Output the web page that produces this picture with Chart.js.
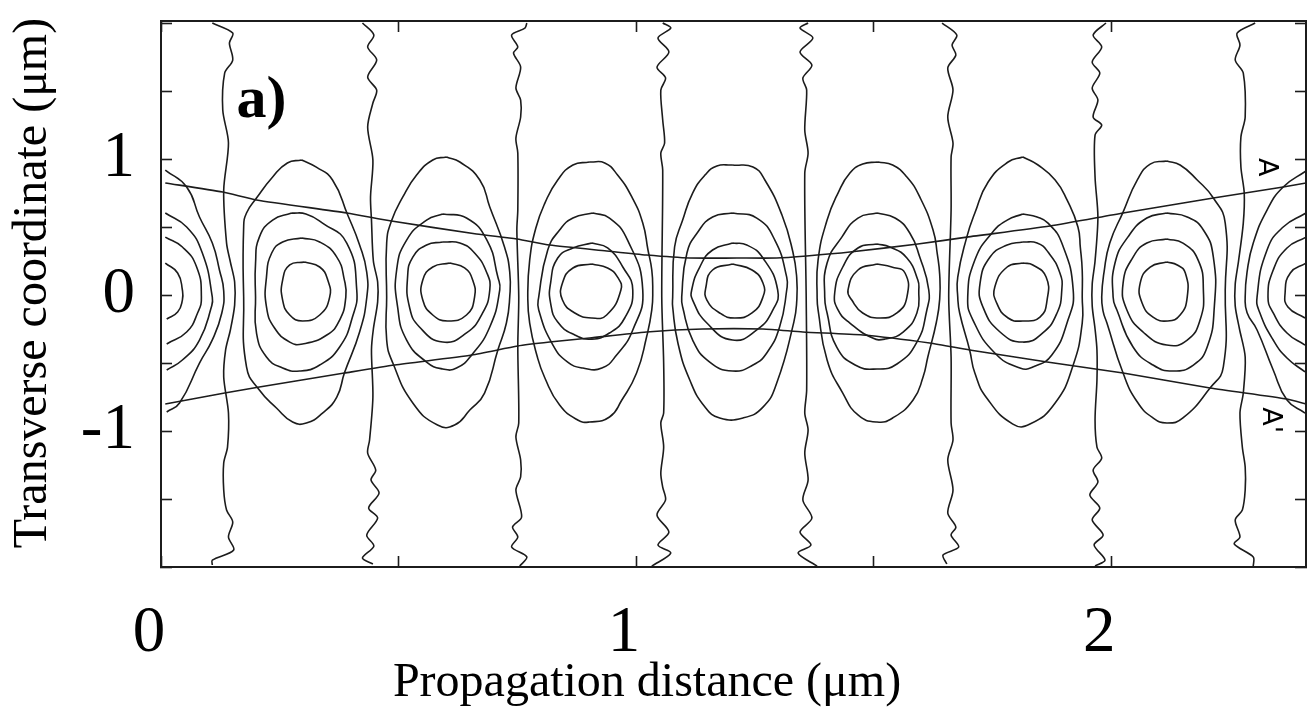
<!DOCTYPE html>
<html>
<head>
<meta charset="utf-8">
<title>Contours</title>
<script src="https://cdn.jsdelivr.net/npm/chart.js@4"></script>
<style>
    body { margin: 0; background: #fff; }
    canvas { display: block; }
</style>
</head>
<body>
<canvas id="chart" width="1311" height="713"></canvas>
<script>
// axis ranges and ticks (um)
const xRange = [0, 2.41];
const yRange = [-2, 2.015];
const xTicks = [0, 0.5, 1, 1.5, 2];
const yTicks = [-2, -1.5, -1, -0.5, 0, 0.5, 1, 1.5, 2];
const xLabels = [0, 1, 2];
const yLabels = [-1, 0, 1];

const beamUpper = [.009,.824, .130,.757, .201,.699, .391,.603, .485,.544, .664,.449, .749,.412, .818,.368, .938,.324, 1.022,.294, 1.113,.272, 1.212,.272, 1.296,.272, 1.359,.287, 1.450,.316, 1.593,.375, 1.696,.426, 1.871,.507, 2.025,.603, 2.215,.713, 2.362,.794, 2.410,.824];
const beamLower = [.009,-.801, .134,-.721, .207,-.676, .386,-.574, .492,-.515, .654,-.441, .751,-.375, .818,-.346, .902,-.316, 1.022,-.272, 1.140,-.250, 1.267,-.250, 1.351,-.272, 1.477,-.294, 1.618,-.353, 1.702,-.404, 1.865,-.493, 2.025,-.574, 2.208,-.684, 2.370,-.765, 2.410,-.801];

// vertical wiggly lines between the cells
const separators = [
    [.108,2.0, .151,1.926, .144,1.853, .151,1.728, .134,1.632, .130,1.360, .142,1.118, .132,.772, .138,.382, .146,.243, .155,.096, .155,-.074, .146,-.257, .136,-.404, .132,-.603, .142,-.868, .140,-1.118, .132,-1.235, .132,-1.434, .138,-1.581, .151,-1.669, .142,-1.779, .153,-1.875, .108,-1.949, .108,-1.985],
    [.424,2.0, .448,1.912, .435,1.824, .454,1.728, .435,1.603, .454,1.507, .446,1.412, .435,1.235, .446,.993, .441,.721, .443,.551, .447,.25, .456,.096, .456,-.05, .447,-.25, .443,-.404, .446,-.750, .439,-1.066, .435,-1.162, .452,-1.287, .442,-1.360, .459,-1.456, .437,-1.566, .456,-1.640, .433,-1.765, .448,-1.846, .424,-1.934, .446,-1.978],
    [.770,2.0, .766,1.963, .738,1.912, .751,1.824, .742,1.779, .757,1.676, .747,1.522, .757,1.434, .757,1.309, .747,1.154, .751,1.044, .751,.625, .749,.478, .753,-.015, .751,-.382, .753,-.941, .747,-1.044, .757,-1.213, .757,-1.338, .747,-1.434, .759,-1.632, .740,-1.706, .751,-1.779, .738,-1.853, .770,-1.926, .755,-1.993],
    [1.056,2.0, 1.073,1.963, 1.046,1.890, 1.069,1.787, 1.044,1.676, 1.062,1.596, 1.052,1.507, 1.056,1.287, 1.060,1.118, 1.052,1.044, 1.056,.919, 1.054,-.015, 1.058,-.5, 1.058,-.868, 1.052,-.941, 1.058,-1.118, 1.052,-1.309, 1.056,-1.412, 1.062,-1.507, 1.044,-1.618, 1.069,-1.743, 1.046,-1.838, 1.073,-1.897, 1.033,-1.993],
    [1.362,2.0, 1.345,1.963, 1.372,1.890, 1.345,1.787, 1.370,1.691, 1.351,1.596, 1.359,1.507, 1.355,1.213, 1.362,1.044, 1.355,.897, 1.358,-.015, 1.359,-.699, 1.355,-.868, 1.362,-.993, 1.355,-1.162, 1.362,-1.360, 1.351,-1.507, 1.370,-1.640, 1.345,-1.743, 1.368,-1.838, 1.341,-1.897, 1.381,-1.993],
    [1.644,2.0, 1.675,1.912, 1.665,1.838, 1.673,1.765, 1.656,1.669, 1.667,1.507, 1.656,1.309, 1.667,1.118, 1.663,1.015, 1.663,.625, 1.658,-.015, 1.663,-.456, 1.663,-.941, 1.667,-1.066, 1.656,-1.213, 1.667,-1.434, 1.656,-1.603, 1.673,-1.706, 1.663,-1.765, 1.679,-1.853, 1.646,-1.912, 1.654,-1.978],
    [1.989,2.0, 1.962,1.912, 1.980,1.824, 1.960,1.713, 1.976,1.632, 1.960,1.522, 1.972,1.434, 1.962,1.309, 1.980,1.250, 1.966,1.176, 1.966,.868, 1.972,.574, 1.966,.25, 1.960,.08, 1.960,-.08, 1.966,-.25, 1.970,-.404, 1.970,-.625, 1.966,-.919, 1.970,-1.118, 1.980,-1.199, 1.962,-1.287, 1.972,-1.375, 1.955,-1.471, 1.976,-1.566, 1.960,-1.654, 1.983,-1.765, 1.964,-1.838, 1.987,-1.949, 1.966,-1.993],
    [2.303,2.0, 2.265,1.926, 2.271,1.838, 2.261,1.728, 2.278,1.632, 2.282,1.309, 2.273,1.162, 2.273,.941, 2.280,.750, 2.278,.529, 2.268,.25, 2.261,.08, 2.261,-.08, 2.270,-.25, 2.282,-.456, 2.278,-.721, 2.271,-.868, 2.276,-1.118, 2.282,-1.265, 2.282,-1.434, 2.276,-1.581, 2.261,-1.654, 2.271,-1.779, 2.259,-1.831, 2.299,-1.926, 2.299,-1.993]
];

// open contours cut by the left and right edges
const leftHalf = [
    [.009,.919, .054,.794, .081,.574, .108,.382, .123,.184, .132,.03, .128,-.132, .108,-.33, .081,-.5, .039,-.794, .012,-.860],
    [.009,.603, .054,.500, .087,.309, .108,-.015, .106,-.088, .081,-.331, .045,-.478, .012,-.551],
    [.009,.426, .045,.353, .075,.206, .085,-.015, .077,-.132, .054,-.272, .012,-.360],
    [.009,.235, .035,.162, .045,.037, .045,-.037, .035,-.125, .012,-.176]
];
const rightHalf = [
    [2.410,.912, 2.362,.794, 2.328,.625, 2.299,.382, 2.286,.17, 2.282,-.015, 2.286,-.13, 2.307,-.257, 2.341,-.551, 2.370,-.772, 2.408,-.868],
    [2.410,.603, 2.362,.5, 2.328,.331, 2.307,-.015, 2.313,-.132, 2.341,-.331, 2.370,-.463, 2.408,-.566],
    [2.410,.426, 2.370,.346, 2.341,.184, 2.330,-.015, 2.341,-.132, 2.370,-.279, 2.408,-.368],
    [2.410,.235, 2.377,.162, 2.366,.015, 2.372,-.088, 2.408,-.169]
];

// closed contours, four per cell, outer to inner
const cell1 = [
    [.296,.993, .266,.971, .235,.868, .201,.713, .180,.603, .174,.500, .174,-.015, .180,-.529, .207,-.699, .243,-.831, .277,-.934, .306,-.941, .340,-.868, .370,-.750, .386,-.574, .418,-.272, .433,-.022, .433,.169, .418,.368, .393,.588, .361,.846, .327,.941],
    [.275,.603, .235,.551, .207,.426, .199,.235, .199,-.015, .201,-.279, .222,-.456, .256,-.537, .292,-.559, .334,-.515, .376,-.382, .403,-.162, .412,.037, .391,.382, .340,.529, .305,.596],
    [.296,.419, .256,.390, .233,.309, .222,.132, .222,-.088, .239,-.243, .271,-.346, .298,-.360, .349,-.294, .376,-.184, .389,-.015, .386,.110, .370,.279, .334,.390],
    [.302,.243, .271,.221, .256,.110, .256,-.037, .271,-.147, .298,-.191, .334,-.147, .355,-.015, .351,.110, .334,.206]
];
const cell2 = [
    [.601,1.015, .572,.993, .538,.882, .509,.721, .485,.544, .475,.382, .475,-.015, .475,-.331, .488,-.500, .530,-.794, .582,-.956, .618,-.956, .650,-.846, .681,-.721, .709,-.404, .727,-.206, .734,-.015, .734,.169, .723,.353, .692,.647, .671,.846, .629,.978],
    [.593,.596, .559,.551, .517,.404, .496,.184, .498,-.088, .517,-.331, .559,-.493, .593,-.544, .622,-.537, .654,-.441, .692,-.235, .713,.037, .709,.132, .686,.404, .643,.566],
    [.593,.390, .559,.368, .530,.279, .519,.132, .523,-.088, .544,-.235, .593,-.346, .643,-.279, .677,-.132, .692,.037, .686,.162, .660,.309, .629,.382],
    [.608,.235, .572,.206, .551,.110, .551,-.037, .572,-.147, .603,-.191, .643,-.147, .660,-.015, .656,.110, .639,.199]
];
const cell3 = [
    [.902,.978, .867,.956, .835,.846, .808,.676, .789,.493, .776,.257, .772,-.015, .776,-.206, .791,-.441, .808,-.610, .839,-.809, .877,-.919, .902,-.934, .944,-.897, .970,-.772, 1.001,-.574, 1.022,-.309, 1.033,-.110, 1.035,.037, 1.033,.184, 1.025,.331, 1.014,.529, .991,.721, .961,.882, .934,.971],
    [.909,.603, .867,.566, .839,.478, .814,.331, .795,-.015, .795,-.110, .825,-.368, .856,-.493, .888,-.537, .928,-.537, .959,-.441, .993,-.257, 1.014,.037, .982,.404, .944,.566],
    [.907,.382, .867,.346, .835,.272, .820,.088, .820,-.059, .835,-.199, .871,-.294, .907,-.324, .944,-.279, .976,-.169, .993,.037, .972,.206, .940,.346],
    [.907,.228, .867,.199, .845,.088, .845,-.037, .871,-.132, .907,-.169, .938,-.147, .968,.037, .961,.132, .940,.199]
];
const cell4 = [
    [1.203,.956, 1.170,.949, 1.145,.882, 1.119,.750, 1.098,.551, 1.081,.353, 1.077,-.015, 1.077,-.088, 1.088,-.353, 1.113,-.625, 1.145,-.824, 1.176,-.904, 1.225,-.904, 1.267,-.824, 1.296,-.647, 1.332,-.199, 1.338,-.05, 1.338,.13, 1.330,.316, 1.307,.588, 1.271,.846, 1.246,.941],
    [1.203,.603, 1.161,.574, 1.130,.463, 1.107,.309, 1.096,-.015, 1.098,-.088, 1.119,-.331, 1.155,-.493, 1.203,-.559, 1.246,-.515, 1.275,-.426, 1.302,-.235, 1.317,.037, 1.317,.132, 1.292,.404, 1.254,.566],
    [1.203,.382, 1.161,.331, 1.134,.206, 1.117,.037, 1.119,-.037, 1.149,-.206, 1.203,-.331, 1.254,-.257, 1.288,-.110, 1.298,.037, 1.267,.272, 1.233,.368],
    [1.203,.228, 1.161,.184, 1.147,.059, 1.149,-.037, 1.176,-.132, 1.208,-.169, 1.244,-.132, 1.267,-.015, 1.267,.088, 1.244,.184]
];
const cell5 = [
    [1.509,.978, 1.477,.963, 1.450,.897, 1.425,.750, 1.402,.551, 1.383,.257, 1.381,-.015, 1.383,-.110, 1.402,-.478, 1.435,-.721, 1.467,-.882, 1.507,-.934, 1.540,-.904, 1.583,-.772, 1.604,-.603, 1.614,-.456, 1.632,-.2, 1.639,-.03, 1.639,.15, 1.634,.3, 1.625,.478, 1.597,.721, 1.570,.868, 1.540,.956],
    [1.507,.603, 1.467,.566, 1.433,.426, 1.402,.235, 1.397,-.015, 1.402,-.132, 1.422,-.382, 1.461,-.515, 1.507,-.544, 1.549,-.507, 1.591,-.346, 1.612,-.110, 1.616,.037, 1.597,.279, 1.576,.456, 1.545,.566],
    [1.507,.375, 1.467,.346, 1.435,.206, 1.418,.015, 1.425,-.110, 1.450,-.206, 1.498,-.316, 1.524,-.324, 1.562,-.272, 1.591,-.132, 1.595,.037, 1.593,.110, 1.570,.272, 1.534,.353],
    [1.507,.228, 1.467,.184, 1.446,.037, 1.454,-.037, 1.477,-.132, 1.513,-.169, 1.549,-.132, 1.570,-.015, 1.566,.162, 1.538,.206]
];
const cell6 = [
    [1.814,1.015, 1.783,.978, 1.741,.831, 1.713,.603, 1.696,.426, 1.677,.132, 1.677,-.015, 1.681,-.132, 1.702,-.404, 1.713,-.574, 1.738,-.757, 1.793,-.949, 1.829,-.949, 1.882,-.794, 1.920,-.515, 1.939,-.206, 1.939,-.015, 1.939,.18, 1.935,.35, 1.930,.500, 1.907,.699, 1.882,.846, 1.846,.956],
    [1.814,.596, 1.781,.551, 1.749,.456, 1.713,.257, 1.698,-.015, 1.709,-.184, 1.755,-.426, 1.808,-.537, 1.835,-.529, 1.875,-.441, 1.909,-.184, 1.920,.037, 1.896,.382, 1.867,.529, 1.844,.574],
    [1.814,.390, 1.781,.368, 1.745,.279, 1.724,.088, 1.730,-.088, 1.766,-.272, 1.814,-.346, 1.856,-.279, 1.886,-.132, 1.896,.037, 1.892,.162, 1.867,.316, 1.844,.382],
    [1.814,.235, 1.781,.206, 1.755,.059, 1.759,-.059, 1.783,-.169, 1.814,-.191, 1.850,-.162, 1.865,-.037, 1.863,.132, 1.835,.221]
];
const cell7 = [
    [2.117,.985, 2.082,.963, 2.055,.846, 2.025,.610, 1.997,.382, 1.985,.17, 1.980,-.015, 1.983,-.12, 1.991,-.206, 2.025,-.574, 2.055,-.787, 2.088,-.904, 2.117,-.941, 2.151,-.904, 2.208,-.684, 2.236,-.529, 2.240,.037, 2.240,.529, 2.215,.713, 2.181,.846, 2.145,.956],
    [2.117,.603, 2.075,.566, 2.035,.426, 2.008,.235, 2.004,-.015, 2.012,-.110, 2.046,-.382, 2.088,-.515, 2.130,-.559, 2.173,-.515, 2.202,-.382, 2.217,-.088, 2.215,.279, 2.194,.478, 2.160,.574],
    [2.117,.412, 2.075,.382, 2.046,.279, 2.025,.088, 2.033,-.110, 2.067,-.272, 2.117,-.368, 2.160,-.331, 2.187,-.184, 2.194,.037, 2.183,.257, 2.151,.382],
    [2.117,.243, 2.082,.206, 2.061,.088, 2.065,-.059, 2.088,-.162, 2.119,-.191, 2.145,-.147, 2.160,-.015, 2.156,.162, 2.139,.221]
];
const cells = [cell1, cell2, cell3, cell4, cell5, cell6, cell7];

// texts placed in data units (x, y of the text anchor)
const notes = [
    { text: 'a)', x: 0.159, y: 1.31, font: 'bold 60px "Liberation Serif"', align: 'left', angle: 0 },
    { text: 'A', x: 2.312, y: 0.94, font: '27px "DejaVu Sans"', align: 'center', angle: 90 },
    { text: "A'", x: 2.32, y: -0.92, font: '27px "DejaVu Sans"', align: 'center', angle: 90 },
    { text: 'Propagation distance (μm)', x: 1.023, y: -2.95, font: '48px "Liberation Serif"', align: 'center', angle: 0 },
    { text: 'Transverse coordinate (μm)', x: -0.242, y: 0.088, font: '48px "Liberation Serif"', align: 'center', angle: -90 }
];

const lineColor = '#1c1c1c';

function toPoints(list, closed) {
    const pts = [];
    for (let i = 0; i < list.length; i += 2) {
        pts.push({ x: list[i], y: list[i + 1] });
    }
    if (closed) pts.push(pts[0]);
    return pts;
}

function curve(list, tension, closed) {
    return {
        data: toPoints(list, closed),
        showLine: true,
        tension: tension,
        borderColor: lineColor,
        borderWidth: 1.6,
        pointRadius: 0,
        fill: false
    };
}

const datasets = [];
cells.forEach(cell => cell.forEach(c => datasets.push(curve(c, 0.5, true))));
leftHalf.concat(rightHalf).forEach(c => datasets.push(curve(c, 0.5, false)));
separators.forEach(c => datasets.push(curve(c, 0.3, false)));
datasets.push(curve(beamUpper, 0.2, false));
datasets.push(curve(beamLower, 0.2, false));

// free texts: panel letter, beam marks, axis names
const notesPlugin = {
    id: 'notes',
    afterDraw(chart) {
        const ctx = chart.ctx;
        notes.forEach(n => {
            ctx.save();
            ctx.translate(chart.scales.x.getPixelForValue(n.x), chart.scales.y.getPixelForValue(n.y));
            ctx.rotate(n.angle * Math.PI / 180);
            ctx.font = n.font;
            ctx.fillStyle = '#000';
            ctx.textAlign = n.align;
            ctx.textBaseline = 'alphabetic';
            ctx.fillText(n.text, 0, 0);
            ctx.restore();
        });
    }
};

function frameAxis(position, ticks, range, labels, extra) {
    return Object.assign({
        type: 'linear',
        position: position,
        min: range[0],
        max: range[1],
        afterBuildTicks: scale => { scale.ticks = ticks.map(v => ({ value: v })); },
        grid: { drawOnChartArea: false, drawTicks: true, tickLength: -11, tickColor: lineColor, tickWidth: 1.6 },
        border: { display: true, color: lineColor, width: 2 },
        ticks: {
            autoSkip: false,
            maxRotation: 0,
            display: labels !== null,
            color: '#000',
            font: { family: '"Liberation Serif"', size: 65 },
            callback: v => (labels && labels.includes(v) ? String(v) : '')
        }
    }, extra);
}

// big tick labels must not push the plot area in
function fixSize(prop, value) {
    return s => {
        s[prop] = value;
        s.paddingTop = 0;
        s.paddingBottom = 0;
        s.paddingLeft = 0;
        s.paddingRight = 0;
    };
}

const xAxis = frameAxis('bottom', xTicks, xRange, xLabels, { afterFit: fixSize('height', 146) });
xAxis.ticks.padding = 39;
xAxis.ticks.labelOffset = -12;
const yAxis = frameAxis('left', yTicks, yRange, yLabels, { afterFit: fixSize('width', 161) });
yAxis.ticks.padding = 37;

new Chart(document.getElementById('chart').getContext('2d'), {
    type: 'scatter',
    data: { datasets: datasets },
    plugins: [notesPlugin],
    options: {
        responsive: false,
        animation: false,
        layout: { padding: { top: 21, right: 5, bottom: 0, left: 0 } },
        plugins: { legend: { display: false }, tooltip: { enabled: false } },
        scales: {
            x: xAxis,
            y: yAxis,
            xTop: frameAxis('top', xTicks, xRange, null, { afterFit: fixSize('height', 0) }),
            yRight: frameAxis('right', yTicks, yRange, null, { afterFit: fixSize('width', 0) })
        }
    }
});
</script>
</body>
</html>
